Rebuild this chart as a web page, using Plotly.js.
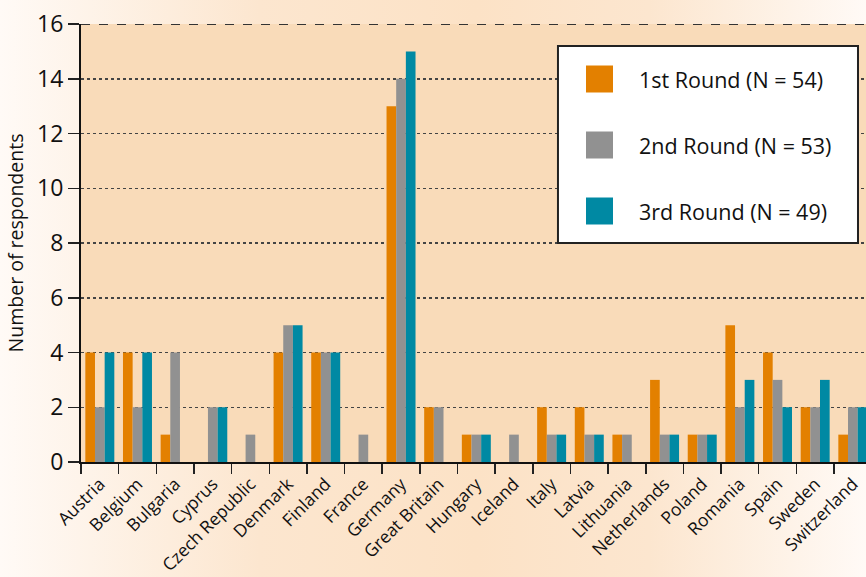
<!DOCTYPE html>
<html>
<head>
<meta charset="utf-8">
<script src="https://cdn.plot.ly/plotly-3.0.1.min.js"></script>
<style>
  html, body { margin: 0; padding: 0; }
  #chart {
    width: 866px; height: 577px;
    background: linear-gradient(90deg, #fffaf6 0%, #fce6cf 30%, #fce2c6 55%, #fce6cf 75%, #fffaf6 100%);
  }
</style>
</head>
<body>
<div id="chart"></div>
<script>
const countries = ["Austria","Belgium","Bulgaria","Cyprus","Czech Republic","Denmark","Finland","France","Germany","Great Britain","Hungary","Iceland","Italy","Latvia","Lithuania","Netherlands","Poland","Romania","Spain","Sweden","Switzerland"];
const round1 = [4,4,1,0,0,4,4,0,13,2,1,0,2,2,1,3,1,5,4,2,1];
const round2 = [2,2,4,2,1,5,4,1,14,2,1,1,1,1,1,1,1,2,3,2,2];
const round3 = [4,4,0,2,0,5,4,0,15,0,1,0,1,1,0,1,1,3,2,3,2];
const seriesNames = ["1st Round (N = 54)","2nd Round (N = 53)","3rd Round (N = 49)"];
const seriesColors = ["#e38000","#919191","#0089a3"];
const yTicks = [0,2,4,6,8,10,12,14,16];

const FONT = "Open Sans, Noto Sans, sans-serif";
const series = [round1, round2, round3];
const traces = series.map((vals, i) => ({
  type: "bar",
  x: countries,
  y: vals,
  name: seriesNames[i],
  marker: { color: seriesColors[i], line: { width: 0 } },
  showlegend: false,
  hoverinfo: "x+y+name"
}));

// Custom legend box (paper coordinates)
const shapes = [
  { type: "rect", xref: "paper", yref: "paper", x0: 0.6076, x1: 0.9898, y0: 0.500, y1: 0.9498,
    fillcolor: "#ffffff", line: { color: "#222222", width: 2 }, layer: "above" },
  { type: "line", xref: "paper", yref: "y", x0: 0, x1: 1, y0: 16, y1: 16,
    line: { color: "#333333", width: 2, dash: "dash" }, layer: "above" }
];
const annotations = [];
const swY = [79, 145, 211];
seriesNames.forEach((nm, i) => {
  const yc = (462 - swY[i]) / 438;
  const h = 13.5 / 438;
  shapes.push({ type: "rect", xref: "paper", yref: "paper",
    x0: (586 - 81) / 785, x1: (613 - 81) / 785, y0: yc - h, y1: yc + h,
    fillcolor: seriesColors[i], line: { width: 0 }, layer: "above" });
  annotations.push({ xref: "paper", yref: "paper", x: (637 - 81) / 785, y: yc,
    xanchor: "left", yanchor: "middle", showarrow: false, text: nm,
    font: { family: FONT, size: 21.5, color: "#111111" } });
});

const layout = {
  width: 866, height: 577,
  margin: { l: 81, r: 0, t: 24, b: 115 },
  paper_bgcolor: "rgba(0,0,0,0)",
  plot_bgcolor: "#f9dbb9",
  barmode: "group",
  bargap: 0.23,
  bargroupgap: 0,
  showlegend: false,
  font: { family: FONT, color: "#111111" },
  xaxis: {
    type: "category",
    range: [-0.5, 20.35],
    tickson: "boundaries",
    ticks: "outside",
    ticklen: 10,
    tickwidth: 1.5,
    tickcolor: "#222222",
    tickangle: -45,
    ticklabelstandoff: 3,
    ticklabelshift: 0,
    tickfont: { family: FONT, size: 17.5, color: "#111111" },
    showline: true,
    linecolor: "#111111",
    linewidth: 2,
    showgrid: false,
    zeroline: false,
    fixedrange: true
  },
  yaxis: {
    range: [0, 16],
    tickvals: yTicks,
    ticktext: yTicks.map(String),
    ticks: "outside",
    ticklen: 11,
    tickwidth: 1.5,
    tickcolor: "#222222",
    tickfont: { family: FONT, size: 23, color: "#111111" },
    showline: true,
    linecolor: "#111111",
    linewidth: 2,
    showgrid: true,
    gridcolor: "#444444",
    gridwidth: 1.5,
    griddash: "dot",
    zeroline: false,
    title: { text: "Number of respondents", font: { family: FONT, size: 19.5, color: "#111111" }, standoff: 8 },
    fixedrange: true
  },
  shapes: shapes,
  annotations: annotations
};

Plotly.newPlot("chart", traces, layout, { displayModeBar: false, staticPlot: true });
</script>
</body>
</html>
